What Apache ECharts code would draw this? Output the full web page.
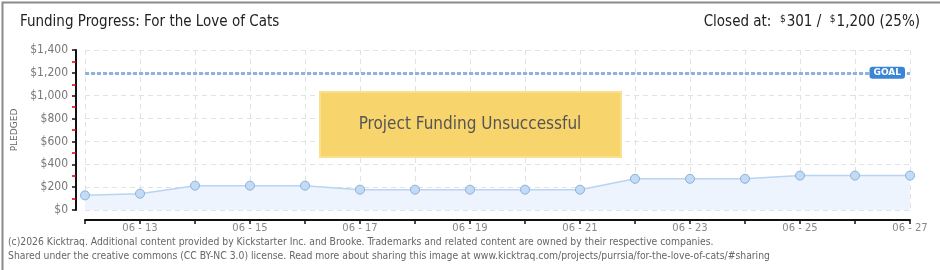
<!DOCTYPE html>
<html><head><meta charset="utf-8">
<script src="https://cdn.jsdelivr.net/npm/echarts@6/dist/echarts.min.js"></script>
<style>html,body{margin:0;padding:0;background:#fff}#c{width:940px;height:270px}</style>
</head><body><div id="c"></div>
<script>
const categories = ['06-12','06-13','06-14','06-15','06-16','06-17','06-18','06-19','06-20','06-21','06-22','06-23','06-24','06-25','06-26','06-27'];
const pledged = [128, 143, 213, 213, 213, 178, 178, 178, 178, 178, 273, 273, 273, 301, 301, 301];
const goal = 1200;
const yTicks = [0, 200, 400, 600, 800, 1000, 1200, 1400];
const titleText = 'Funding Progress: For the Love of Cats';
const closedAmount = '301';
const goalAmount = '1,200';
const percentText = '(25%)';
const footer1 = '(c)2026 Kicktraq. Additional content provided by Kickstarter Inc. and Brooke. Trademarks and related content are owned by their respective companies.';
const footer2 = 'Shared under the creative commons (CC BY-NC 3.0) license. Read more about sharing this image at www.kicktraq.com/projects/purrsia/for-the-love-of-cats/#sharing';
const bannerText = 'Project Funding Unsuccessful';

const NARROW = '"Liberation Sans Narrow","DejaVu Sans Condensed",sans-serif';
const chart = echarts.init(document.getElementById('c'));
chart.setOption({
  animation: false,
  backgroundColor: '#fff',
  grid: {left: 85, right: 30, top: 50, bottom: 60, containLabel: false},
  xAxis: {
    type: 'category', data: categories, boundaryGap: false, offset: 10,
    axisLine: {onZero: false, lineStyle: {color: '#111', width: 2}},
    axisTick: {show: true, interval: 0, length: 4, lineStyle: {color: '#111', width: 1.5}},
    axisLabel: {interval: (i) => i % 2 === 1, color: '#888', fontSize: 10, fontFamily: 'DejaVu Sans', margin: 3,
      formatter: (v) => v.replace('-', ' - ')},
    splitLine: {show: true, interval: 0, lineStyle: {color: '#e2e2e2', type: [5, 4]}}
  },
  yAxis: {
    type: 'value', min: 0, max: 1400, interval: 200, offset: 9,
    name: 'PLEDGED', nameLocation: 'middle', nameGap: 46, nameRotate: 90,
    nameTextStyle: {color: '#666', fontSize: 9, fontFamily: 'DejaVu Sans', letterSpacing: 1},
    axisLine: {show: true, onZero: false, lineStyle: {color: '#111', width: 2}},
    axisTick: {show: true, length: 4, lineStyle: {color: '#111', width: 1.5}},
    minorTick: {show: true, splitNumber: 2, length: 4, lineStyle: {color: '#d00', width: 1.5}},
    axisLabel: {color: '#777', fontSize: 12, fontFamily: NARROW, margin: 8,
      formatter: (v) => '$' + v.toLocaleString('en-US')},
    splitLine: {show: true, lineStyle: {color: '#e2e2e2', type: [5, 4]}}
  },
  series: [{
    type: 'line', data: pledged, symbol: 'circle', symbolSize: 9,
    itemStyle: {color: '#c2dbf7', borderColor: '#8eaed6', borderWidth: 1},
    lineStyle: {color: '#b8d4f2', width: 1.5},
    areaStyle: {color: '#edf4fd', opacity: 1},
    markLine: {
      silent: true, symbol: 'none',
      lineStyle: {color: '#8eb3e0', type: [4, 2], width: 3},
      label: {show: true, position: 'insideEnd', formatter: 'GOAL', distance: 5,
        color: '#fff', backgroundColor: '#3b86d4', borderRadius: 3, padding: [2, 4, 1, 4],
        fontSize: 9, fontWeight: 'bold', fontFamily: 'DejaVu Sans'},
      data: [{yAxis: goal}]
    }
  }],
  graphic: [
    {type: 'rect', left: 0, top: 0, shape: {x: 0.5, y: 0.5, width: 939, height: 269},
      style: {fill: 'none', stroke: '#8a8a8a', lineWidth: 2}, silent: true},
    {type: 'text', left: 20, top: 15, style: {text: titleText, fill: '#222', font: '15px ' + NARROW}},
    {type: 'text', right: 20, top: 14, style: {
      text: '{n|Closed at:  }{s|$}{n|' + closedAmount + ' /  }{s|$}{n|' + goalAmount + ' ' + percentText + '}',
      rich: {n: {fill: '#222', fontSize: 15, fontFamily: NARROW}, s: {fill: '#222', fontSize: 10, fontFamily: NARROW, verticalAlign: 'top', padding: [0,1,6,0]}}}},
    {type: 'rect', shape: {x: 320, y: 92, width: 301, height: 65},
      style: {fill: '#f8d46d', stroke: '#fbe08c', lineWidth: 2}, z: 100},
    {type: 'text', x: 470, y: 125, z: 101, style: {text: bannerText, fill: '#555', font: '17px ' + NARROW,
      align: 'center', verticalAlign: 'middle', textShadowColor: '#fff', textShadowOffsetX: 1, textShadowOffsetY: 1, textShadowBlur: 0}},
    {type: 'text', left: 8, top: 237, style: {text: footer1, fill: '#666', font: '10.3px ' + NARROW}},
    {type: 'text', left: 8, top: 251, style: {text: footer2, fill: '#666', font: '10.3px ' + NARROW}}
  ]
});
</script></body></html>
